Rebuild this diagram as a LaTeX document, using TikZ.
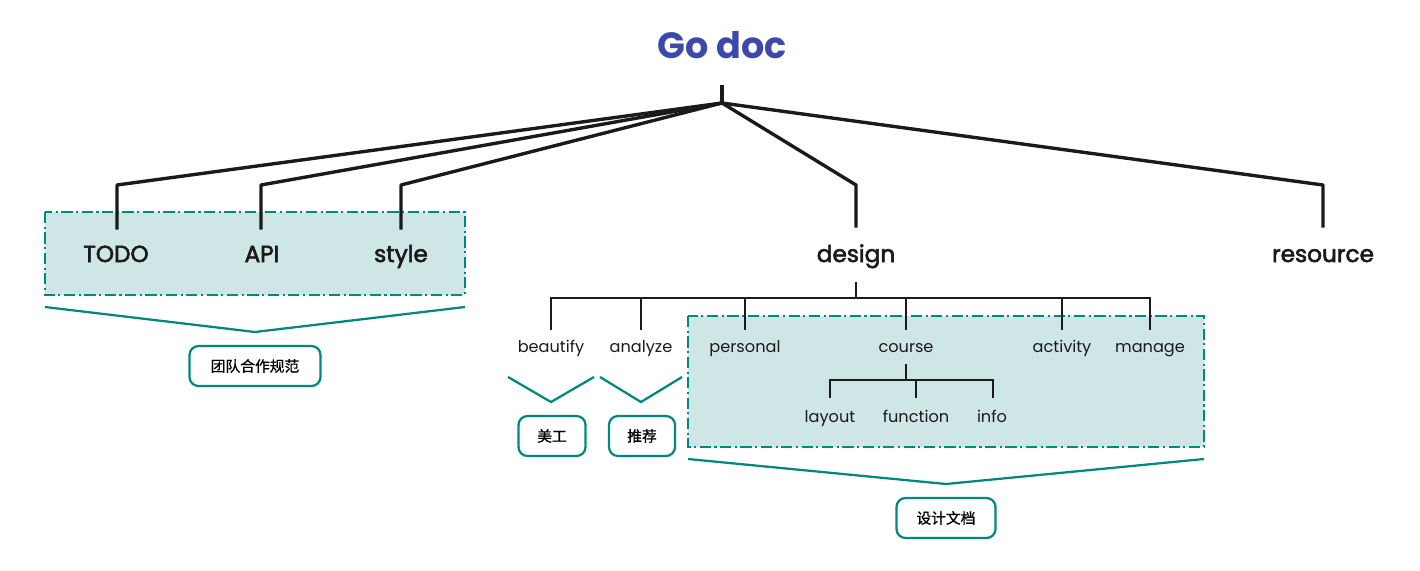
\documentclass[tikz,border=0pt]{standalone}
\usepackage{fontspec}
\setmainfont{Poppins}
\newfontfamily\medfont[FakeBold=2.5]{Poppins}
\newfontfamily\cjk[FakeBold=0.8]{Noto Sans CJK SC}
\definecolor{teal1}{RGB}{0,137,123}
\definecolor{tealfill}{RGB}{206,231,230}
\definecolor{titleblue}{RGB}{61,73,170}
\definecolor{ink}{RGB}{26,26,26}
\begin{document}
\begin{tikzpicture}[x=0.05cm,y=-0.05cm,
  thick1/.style={draw=ink,line width=4.8pt,line cap=rect},
  thick2/.style={draw=ink,line width=3.4pt},
  grp/.style={draw=teal1,fill=tealfill,line width=2.8pt,dash pattern=on 16pt off 5pt on 3pt off 5pt},
  brace/.style={draw=teal1,line width=3.2pt},
  tag/.style={draw=teal1,line width=3.2pt,rounded corners=0.45cm,fill=white,inner sep=0pt,font=\cjk\fontsize{21}{21}\selectfont},
  lab1/.style={font=\medfont\fontsize{33}{33}\selectfont,text=ink,inner sep=0pt,anchor=base},
  lab2/.style={font=\fontsize{23}{23}\selectfont,text=ink,inner sep=0pt,anchor=base}]
\useasboundingbox (0,0) rectangle (1420,570);
% groups
\path[grp] (45,212) rectangle (465,295);
\path[grp] (688,316) rectangle (1204,447);
% title
\node[font=\fontsize{52}{52}\selectfont\bfseries,text=titleblue] (title) at (722,45) {Go doc};
\coordinate (r0) at (722,87);
\coordinate (r) at (722,103);
% level1
\node[lab1] (todo) at (116,262) {TODO};
\node[lab1] (api) at (262,262) {API};
\node[lab1] (style) at (401,262) {style};
\node[lab1] (design) at (856,262) {design};
\node[lab1] (resource) at (1323,262) {resource};
\coordinate (ktodo) at (117,185);
\coordinate (kapi) at (261,185);
\coordinate (kstyle) at (401,185);
\coordinate (kdesign) at (856,185);
\coordinate (kres) at (1323,185);
\coordinate (etodo) at (117,228);
\coordinate (eapi) at (261,228);
\coordinate (estyle) at (401,228);
\coordinate (edesign) at (856,226);
\coordinate (eres) at (1323,226);
\draw[thick1] (r0) -- (r);
\draw[thick1,line join=round] (r) -- (ktodo) -- (etodo);
\draw[thick1,line join=round] (r) -- (kapi) -- (eapi);
\draw[thick1,line join=round] (r) -- (kstyle) -- (estyle);
\draw[thick1,line join=round] (r) -- (kdesign) -- (edesign);
\draw[thick1,line join=round] (r) -- (kres) -- (eres);
% level2
\node[lab2] (beautify) at (551,352) {beautify};
\node[lab2] (analyze) at (641,352) {analyze};
\node[lab2] (personal) at (745,352) {personal};
\node[lab2] (course) at (906,352) {course};
\node[lab2] (activity) at (1062,352) {activity};
\node[lab2] (manage) at (1150,352) {manage};
\coordinate (d0) at (856,282);
\coordinate (d1) at (856,298);
\draw[thick2] (d0) -- (d1);
\draw[thick2] (551,330) -- (551,298) -- (1150,298) -- (1150,330);
\foreach \x in {641,745,906,1062} \draw[thick2] (\x,298) -- (\x,330);
% level3
\node[lab2] (layout) at (830,422) {layout};
\node[lab2] (function) at (916,422) {function};
\node[lab2] (info) at (992,422) {info};
\coordinate (c0) at (906,364);
\coordinate (c1) at (906,380);
\draw[thick2] (c0) -- (c1);
\draw[thick2] (830,398) -- (830,380) -- (993,380) -- (993,398);
\draw[thick2] (916,380) -- (916,398);
% braces
\draw[brace] (45,307) -- (255,332) -- (465,307);
\draw[brace] (508,377) -- (551,402) -- (594,377);
\draw[brace] (600,377) -- (641,402) -- (682,377);
\draw[brace] (688,459) -- (946,484) -- (1204,459);
% tags
\node[tag,minimum width=131*0.05cm,minimum height=40*0.05cm] (t1) at (255,366) {团队合作规范};
\node[tag,minimum width=67*0.05cm,minimum height=40*0.05cm] (t2) at (552,436) {美工};
\node[tag,minimum width=66*0.05cm,minimum height=40*0.05cm] (t3) at (642,436) {推荐};
\node[tag,minimum width=99*0.05cm,minimum height=40*0.05cm] (t4) at (946,518) {设计文档};
\end{tikzpicture}
\end{document}
